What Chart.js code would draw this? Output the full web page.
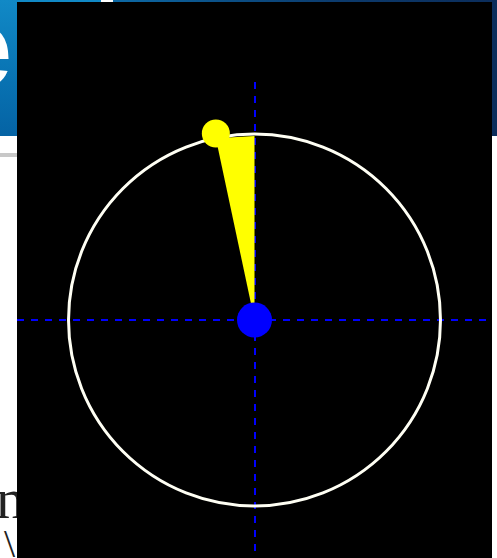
<!DOCTYPE html>
<html>
<head>
<meta charset="utf-8">
<script src="https://cdn.jsdelivr.net/npm/chart.js@4.4.1/dist/chart.umd.min.js"></script>
<style>
  html, body { margin: 0; padding: 0; background: #ffffff; overflow: hidden; }
  body { width: 497px; height: 558px; position: relative; }
  #bannerL { position: absolute; left: 0; top: 0; width: 101px; height: 136px;
    background: linear-gradient(180deg, #1189c6 0%, #0872b2 60%, #0563a4 100%); overflow: hidden; }
  #bannerR { position: absolute; left: 113px; top: 0; width: 384px; height: 136px;
    background: linear-gradient(90deg, #0d6aa6 0%, #0b4f86 30%, #0c3a6c 60%, #0b2d5b 100%); }
  #eLetter { position: absolute; left: -50px; top: -8px; font: 700 112px "Liberation Sans", Arial, sans-serif;
    color: #ffffff; line-height: 1; }
  #greyLine { position: absolute; left: 0; top: 153px; width: 30px; height: 4px; background: #c8c8c8; }
  #txtN { position: absolute; left: -4px; top: 470px; font: 58px "Liberation Serif", "DejaVu Serif", serif; color: #222; line-height: 1; }
  #txtSlash { position: absolute; left: 4px; top: 524px; font: 40px "Liberation Serif", "DejaVu Serif", serif; color: #222; line-height: 1; }
  #wrap { position: absolute; left: 17px; top: 2px; width: 475px; height: 556px; background: #000000; }
</style>
</head>
<body>
<div id="bannerL"><div id="eLetter">e</div></div>
<div id="bannerR"></div>
<div id="greyLine"></div>
<div id="txtN">n</div>
<div id="txtSlash">\</div>
<div id="wrap"><canvas id="c"></canvas></div>
<script>
// ---- data ----
const dialRadius = [1.0];          // radius of the white dial circle (data units)
const pointerAngleDeg = [12];      // pointer angle, degrees counter-clockwise from north
const pointerBaseRadius = [0.99];  // where the wedge meets the vertical (north) axis
const xRange = [-1.277, 1.277];
const yRange = [-1.28, 1.28];
const crosshairTicks = [0];

const ang = pointerAngleDeg[0] * Math.PI / 180;
const tip = { x: -Math.sin(ang) * dialRadius[0], y: Math.cos(ang) * dialRadius[0] };
const wedge = [{ x: 0, y: 0 }, { x: 0, y: pointerBaseRadius[0] }, { x: tip.x, y: tip.y }];

const dialPlugin = {
  id: 'dial',
  beforeDatasetsDraw(chart) {
    const xs = chart.scales.x, ys = chart.scales.y;
    const ctx = chart.ctx;
    // yellow wedge
    ctx.save();
    ctx.beginPath();
    wedge.forEach((p, i) => {
      const px = xs.getPixelForValue(p.x), py = ys.getPixelForValue(p.y);
      if (i === 0) ctx.moveTo(px, py); else ctx.lineTo(px, py);
    });
    ctx.closePath();
    ctx.fillStyle = '#ffff00';
    ctx.fill();
    // white dial circle
    const cx = xs.getPixelForValue(0), cy = ys.getPixelForValue(0);
    const r = xs.getPixelForValue(dialRadius[0]) - cx;
    ctx.beginPath();
    ctx.arc(cx, cy, r, 0, Math.PI * 2);
    ctx.strokeStyle = '#fffff4';
    ctx.lineWidth = 3;
    ctx.stroke();
    ctx.restore();
  }
};

const gridOpts = (range) => ({
  type: 'linear',
  min: range[0],
  max: range[1],
  afterBuildTicks: (scale) => { scale.ticks = crosshairTicks.map(v => ({ value: v })); },
  ticks: { display: false, padding: 0 },
  grid: { color: '#0000ff', lineWidth: 2, drawTicks: false, tickLength: 0 },
  border: { display: false, dash: [7, 7] }
});

new Chart(document.getElementById('c'), {
  type: 'scatter',
  data: {
    datasets: [
      {
        // yellow pointer tip
        data: [{ x: tip.x, y: tip.y + 0.025 }],
        pointRadius: 14,
        pointBackgroundColor: '#ffff00',
        pointBorderWidth: 0,
        order: 3
      },
      {
        // blue hub
        data: [{ x: 0, y: 0 }],
        pointRadius: 17.5,
        pointBackgroundColor: '#0000ff',
        pointBorderWidth: 0,
        order: 2
      }
    ]
  },
  options: {
    responsive: true,
    maintainAspectRatio: false,
    animation: false,
    layout: { autoPadding: false, padding: { top: 80, left: 0, right: 0, bottom: 0 } },
    plugins: { legend: { display: false }, tooltip: { enabled: false } },
    scales: { x: gridOpts(xRange), y: gridOpts(yRange) }
  },
  plugins: [dialPlugin]
});
</script>
</body>
</html>
